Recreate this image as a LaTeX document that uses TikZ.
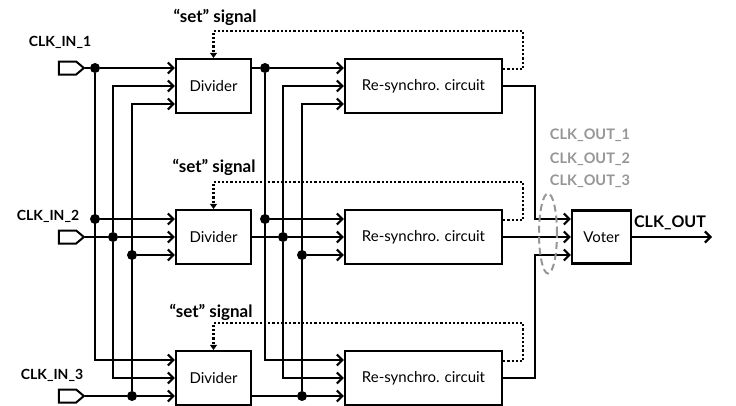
\documentclass[tikz,border=0pt]{standalone}
\usepackage{fontspec}
\setmainfont{Lato}
\usepackage{xcolor}
\usepackage{tikz}
\usetikzlibrary{arrows.meta,shapes.symbols,shapes.geometric}

\definecolor{outgray}{RGB}{150,150,150}

\tikzset{
    block/.style={draw, line width=2.2pt, minimum height=54pt, inner sep=0pt,
        font=\fontsize{15}{17}\selectfont},
    port/.style={draw, line width=2pt, signal, signal to=east,
        signal pointer angle=80, minimum width=25pt, minimum height=13pt, inner sep=0pt},
    dot/.style={circle, fill, inner sep=0pt, minimum size=10pt},
    wire/.style={line width=2.2pt},
    fb/.style={line width=2.2pt, dotted, -{Triangle[length=5pt,width=7pt]}},
    lbl/.style={font=\bfseries\fontsize{14}{16}\selectfont},
    setlbl/.style={font=\bfseries\fontsize{17}{19}\selectfont},
    glbl/.style={font=\bfseries\fontsize{14.5}{16}\selectfont, text=outgray},
    group/.style={draw=outgray, ellipse, dash pattern=on 7pt off 4pt, line width=2pt,
        minimum width=18pt, minimum height=80pt, inner sep=0pt},
    >={Straight Barb[length=5.5pt,width=11pt]}
}

\begin{document}
\begin{tikzpicture}[x=1pt, y=-1pt]
            \useasboundingbox (0,0) rectangle (736,405);

            % blocks
            \node[block, minimum width=75pt] (d1) at (213.5,86) {Divider};
            \node[block, minimum width=75pt] (d2) at (213.5,237) {Divider};
            \node[block, minimum width=75pt] (d3) at (213.5,378) {Divider};
            \node[block, minimum width=157pt] (r1) at (423.5,86) {Re-synchro. circuit};
            \node[block, minimum width=157pt] (r2) at (423.5,237) {Re-synchro. circuit};
            \node[block, minimum width=157pt] (r3) at (423.5,378) {Re-synchro. circuit};
            \node[block, minimum width=59pt, minimum height=53pt] (v) at (601.5,237) {Voter};

            % clock inputs
            \node[port] (p1) at (67.5,68) {};
            \node[port] (p2) at (67.5,237) {};
            \node[port] (p3) at (67.5,396) {};
            \node[lbl] (l1) at (60,42) {CLK\_IN\_1};
            \node[lbl] (l2) at (48,216) {CLK\_IN\_2};
            \node[lbl] (l3) at (52,375) {CLK\_IN\_3};

            \node[dot] (c1) at (95,68) {};
            \node[dot] (c1b) at (95,219) {};
            \node[dot] (c2) at (113,237) {};
            \node[dot] (c3) at (132,396) {};
            \node[dot] (c3b) at (132,255) {};

            \draw[wire] (p1) -- (c1);
            \draw[wire,->] (c1) -- (d1.west |- c1);
            \draw[wire,->] (c1b) -- (d2.west |- c1b);
            \draw[wire,->] (c1) |- ([yshift=18pt]d3.west);
            \draw[wire] (p2) -- (c2);
            \draw[wire,->] (c2) -- (d2.west);
            \draw[wire,->] (c2) |- (d1.west);
            \draw[wire,->] (c2) |- (d3.west);
            \draw[wire] (p3) -- (c3);
            \draw[wire,->] (c3) -- (d3.west |- c3);
            \draw[wire,->] (c3) |- ([yshift=-18pt]d1.west);
            \draw[wire,->] (c3b) -- (d2.west |- c3b);

            % divider outputs
            \node[dot] (e1) at (265,68) {};
            \node[dot] (e1b) at (265,219) {};
            \node[dot] (e2) at (283,237) {};
            \node[dot] (e3) at (302,396) {};
            \node[dot] (e3b) at (302,255) {};

            \draw[wire] (d1.east |- e1) -- (e1);
            \draw[wire,->] (e1) -- (r1.west |- e1);
            \draw[wire,->] (e1b) -- (r2.west |- e1b);
            \draw[wire,->] (e1) |- ([yshift=18pt]r3.west);
            \draw[wire] (d2.east) -- (e2);
            \draw[wire,->] (e2) -- (r2.west);
            \draw[wire,->] (e2) |- (r1.west);
            \draw[wire,->] (e2) |- (r3.west);
            \draw[wire] (d3.east |- e3) -- (e3);
            \draw[wire,->] (e3) -- (r3.west |- e3);
            \draw[wire,->] (e3) |- ([yshift=-18pt]r1.west);
            \draw[wire,->] (e3b) -- (r2.west |- e3b);

            % "set" feedback
            \node[setlbl] (s1) at (215,17) {“set” signal};
            \node[setlbl] (s2) at (214,167) {“set” signal};
            \node[setlbl] (s3) at (211,312) {“set” signal};
            \draw[fb] ([yshift=17pt]r1.east) -- ++(20,0) |- ([yshift=27pt]d1.north) -- (d1.north);
            \draw[fb] ([yshift=17pt]r2.east) -- ++(20,0) |- ([yshift=27pt]d2.north) -- (d2.north);
            \draw[fb] ([yshift=17pt]r3.east) -- ++(20,0) |- ([yshift=27pt]d3.north) -- (d3.north);

            % voter
            \coordinate (k1) at (535,219);
            \coordinate (k3) at (535,255);
            \coordinate (out) at (712,237);
            \draw[wire,->] (r1.east) -| (k1) -- (v.west |- k1);
            \draw[wire,->] (r2.east) -- (v.west);
            \draw[wire,->] (r3.east) -| (k3) -- (v.west |- k3);
            \draw[wire,->] (v.east) -- (out);
            \node[lbl, font=\bfseries\fontsize{16}{18}\selectfont] (lo) at (670,223) {CLK\_OUT};

            \node[group] (g) at (548,233.5) {};
            \node[glbl] (o1) at (590,135) {CLK\_OUT\_1};
            \node[glbl] (o2) at (590,159) {CLK\_OUT\_2};
            \node[glbl] (o3) at (590,181) {CLK\_OUT\_3};
        \end{tikzpicture}
\end{document}
